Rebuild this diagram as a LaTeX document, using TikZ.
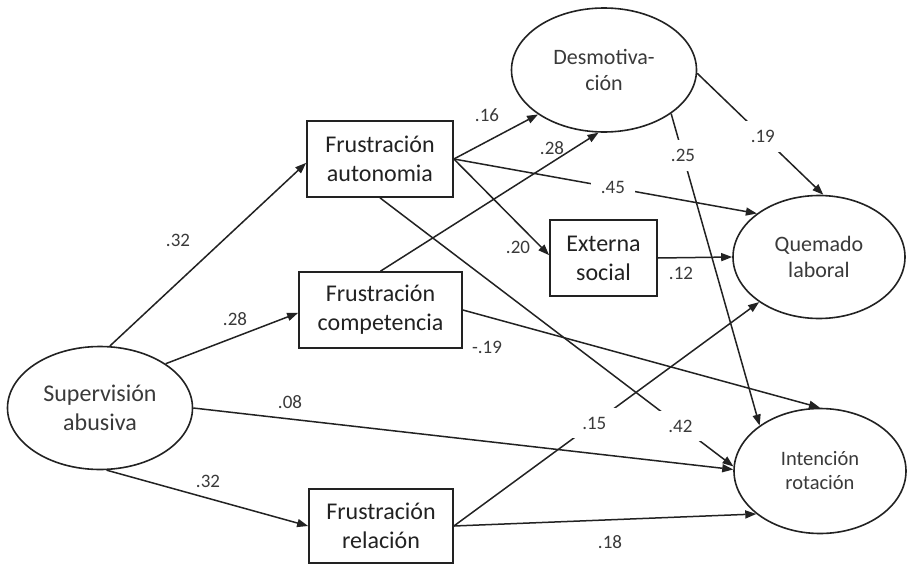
\documentclass[tikz,border=0pt]{standalone}
\usepackage{fontspec}
\setmainfont{Carlito}
\usetikzlibrary{arrows.meta,shapes.geometric}
\definecolor{ink}{HTML}{222222}
\definecolor{txt}{HTML}{3A3A3A}
\tikzset{
  boxnode/.style={draw=ink, line width=1.7pt, rectangle, inner sep=0pt, align=center,
    text=ink, font=\fontsize{24}{29}\selectfont},
  latnode/.style={draw=ink, line width=1.6pt, ellipse, inner sep=0pt, align=center,
    text=txt, font=\fontsize{22}{26}\selectfont},
  arr/.style={draw=ink, line width=1.5pt, -{Triangle[length=11pt,width=8pt]}},
  lbl/.style={text=txt, font=\fontsize{19}{23}\selectfont, inner sep=1pt},
  gaplbl/.style={text=txt, font=\fontsize{19}{23}\selectfont, fill=white, inner xsep=10pt, inner ysep=9pt}
}
\begin{document}
\begin{tikzpicture}[x=1pt,y=-1pt]
\path[use as bounding box, fill=white] (0,0) rectangle (908,565);

% nodes
\node[latnode, minimum width=185pt, minimum height=123pt, font=\fontsize{24}{29}\selectfont] (sup) at (100,408) {Supervisión\\abusiva};
\node[latnode, minimum width=185pt, minimum height=124pt] (des) at (604,70) {Desmotiva-\\ción};
\node[latnode, minimum width=172pt, minimum height=123pt] (que) at (819,257) {Quemado\\laboral};
\node[latnode, minimum width=172pt, minimum height=125pt, font=\fontsize{20.5}{24}\selectfont] (int) at (820,471) {Intención\\rotación};

\node[boxnode, minimum width=146pt, minimum height=76pt] (aut) at (380,159) {Frustración\\autonomia};
\node[boxnode, minimum width=163pt, minimum height=76pt] (com) at (380.5,310) {Frustración\\competencia};
\node[boxnode, minimum width=107pt, minimum height=76pt] (ext) at (603.5,258) {Externa\\social};
\node[boxnode, minimum width=144pt, minimum height=74pt] (rel) at (381,526) {Frustración\\relación};

% connectors
\draw[arr] (sup.81) -- (aut.183);
\draw[arr] (sup.34) -- (com.182);
\draw[arr] (sup.east) -- (int.179);
\draw[arr] (sup.276) -- (rel.west);

\draw[arr] (aut.east) -- (des.214);
\draw[arr] (com.north) -- (des.265);
\draw[arr] (aut.east) -- node[gaplbl, pos=0.525] {.45} (que.145);
\draw[arr] (aut.east) -- (ext.177);
\draw[arr] (aut.south) -- node[gaplbl, pos=0.85] {.42} (int.177);

\draw[arr] (ext.east) -- (que.west);
\draw[arr] (des.358) -- node[gaplbl, pos=0.52] {.19} (que.86);
\draw[arr] (des.327) -- node[gaplbl, pos=0.134, inner xsep=4pt] {.25} (int.143);
\draw[arr] (com.east) -- (int.north);
\draw[arr] (rel.east) -- node[gaplbl, pos=0.46] {.15} (que.217);
\draw[arr] (rel.east) -- (int.214);

% free labels
\node[lbl] (l1) at (178,240) {.32};
\node[lbl] (l2) at (235,319) {.28};
\node[lbl] (l3) at (290,402) {.08};
\node[lbl] (l4) at (208,481) {.32};
\node[lbl] (l5) at (487,115) {.16};
\node[lbl] (l6) at (552,148) {.28};
\node[lbl] (l7) at (518,247) {.20};
\node[lbl] (l8) at (681,273) {.12};
\node[lbl] (l9) at (487,347) {-.19};
\node[lbl] (l10) at (610,542) {.18};
\end{tikzpicture}
\end{document}
